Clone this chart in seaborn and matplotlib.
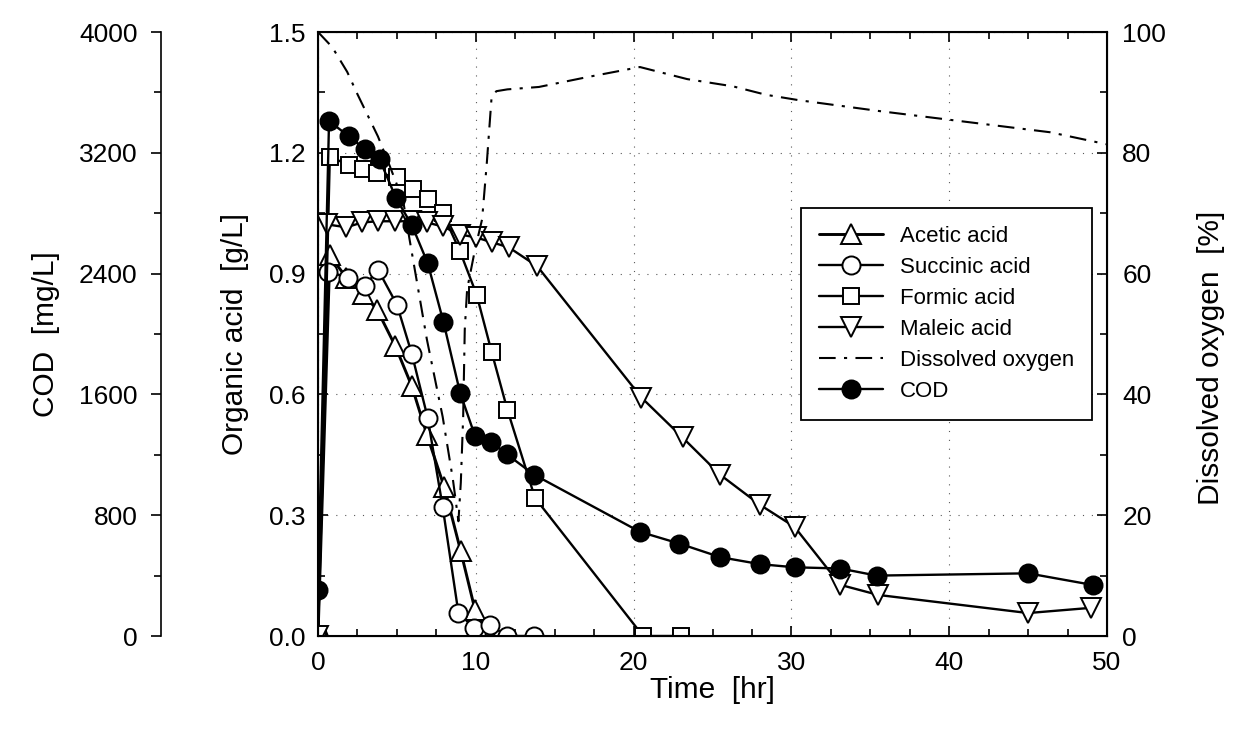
import matplotlib
matplotlib.use('Agg')
import matplotlib.pyplot as plt
from matplotlib.ticker import MultipleLocator
import seaborn as sns

# ========================================== DATA ==========================================

acetic_t = [0, 0.75, 1.8, 2.85, 3.75, 4.9, 5.95, 6.9, 8.0, 9.05, 9.95, 10.9]
acetic = [0.0, 0.945, 0.89, 0.85, 0.81, 0.72, 0.62, 0.50, 0.37, 0.21, 0.065, 0.0]

succinic_t = [0, 0.65, 1.9, 2.95, 3.8, 5.0, 5.95, 6.95, 7.9, 8.9, 9.9, 10.9, 12.0, 13.7]
succinic = [0.0, 0.905, 0.89, 0.868, 0.91, 0.823, 0.70, 0.542, 0.321, 0.057, 0.02, 0.027, 0.0, 0.0]

formic_t = [0, 0.75, 1.95, 2.85, 3.75, 5.0, 6.0, 6.95, 7.9, 9.0, 10.05, 11.0, 12.0, 13.75, 20.6, 23.0]
formic = [0.0, 1.19, 1.17, 1.16, 1.15, 1.14, 1.11, 1.085, 1.05, 0.955, 0.848, 0.706, 0.562, 0.343, 0.0, 0.0]

maleic_t = [0, 0.6, 1.8, 2.8, 3.8, 4.9, 5.9, 6.9, 7.9, 9.0, 10.0, 11.0, 12.1, 13.9,
            20.5, 23.1, 25.5, 28.0, 30.2, 33.1, 35.5, 45.0, 49.0]
maleic = [0.0, 1.022, 1.015, 1.027, 1.03, 1.03, 1.03, 1.027, 1.017, 0.997, 0.99, 0.978, 0.965, 0.918,
          0.592, 0.493, 0.40, 0.326, 0.271, 0.127, 0.102, 0.057, 0.07]

do_t = [0, 0.9, 1.85, 2.5, 3.8, 4.55, 5.4, 5.8, 6.9, 7.9, 8.55, 8.9, 9.05, 9.2, 9.3, 9.45,
        9.95, 10.4, 10.7, 11.0, 11.3, 12.0, 14.0, 17.0, 20.4, 23.4, 26.3, 28.4, 30.5, 35.6, 46.4, 50.0]
do = [100, 97.5, 93.4, 89.7, 82.7, 77.8, 72.0, 65.7, 49.1, 36.3, 25.9, 19.0, 25.4, 36.3, 50.7, 57.4,
      64.0, 69.0, 78.4, 89.2, 90.2, 90.5, 90.9, 92.5, 94.2, 92.2, 91.0, 89.6, 88.7, 86.9, 83.4, 81.4]

cod_t = [0, 0.7, 1.95, 2.95, 3.9, 4.95, 5.95, 6.95, 7.95, 9.0, 9.95, 10.95, 11.97, 13.7,
         20.4, 22.9, 25.5, 28.0, 30.2, 33.1, 35.4, 45.0, 49.1]
cod = [305, 3410, 3310, 3225, 3157, 2899, 2720, 2470, 2080, 1612, 1325, 1287, 1203, 1068,
       690, 612, 522, 476, 455, 447, 400, 415, 338]

# ========================================== PLOT ==========================================

sns.set_style('ticks')
plt.rcParams['font.family'] = ['Liberation Sans', 'DejaVu Sans']
plt.rcParams['font.size'] = 16
for key in ('text.color', 'axes.labelcolor', 'xtick.color', 'ytick.color', 'axes.edgecolor'):
    plt.rcParams[key] = 'black'

TICK_SIZE = 19
LABEL_SIZE = 21.5

fig = plt.figure(figsize=(12.46, 7.47), dpi=100)
ax = fig.add_axes([318 / 1246, 111 / 747, 789 / 1246, 604 / 747])
ax2 = ax.twinx()
ax3 = ax.twinx()

common = dict(color='black', markeredgecolor='black', markeredgewidth=1.4, sort=False, estimator=None)

sns.lineplot(x=acetic_t, y=acetic, ax=ax, marker='^', markersize=14, markerfacecolor='white',
             linewidth=2.1, label='Acetic acid', **common)
sns.lineplot(x=succinic_t, y=succinic, ax=ax, marker='o', markersize=13, markerfacecolor='white',
             linewidth=1.7, label='Succinic acid', **common)
sns.lineplot(x=formic_t, y=formic, ax=ax, marker='s', markersize=12, markerfacecolor='white',
             linewidth=1.7, label='Formic acid', **common)
sns.lineplot(x=maleic_t, y=maleic, ax=ax, marker='v', markersize=14, markerfacecolor='white',
             linewidth=1.7, label='Maleic acid', **common)
sns.lineplot(x=do_t, y=do, ax=ax2, color='black', linewidth=1.5, linestyle=(0, (8, 4, 1.5, 4)),
             label='Dissolved oxygen', sort=False, estimator=None)
sns.lineplot(x=cod_t, y=cod, ax=ax3, marker='o', markersize=13, markerfacecolor='black',
             linewidth=1.7, label='COD', **common)

# organic acid axis
ax.set_xlim(0, 50)
ax.set_ylim(0, 1.5)
ax.xaxis.set_major_locator(MultipleLocator(10))
ax.xaxis.set_minor_locator(MultipleLocator(2.5))
ax.yaxis.set_major_locator(MultipleLocator(0.3))
ax.yaxis.set_minor_locator(MultipleLocator(0.15))
ax.yaxis.set_major_formatter(plt.FormatStrFormatter('%.1f'))
ax.tick_params(which='both', direction='in', top=True, right=False, width=1.2)
ax.tick_params(which='major', length=7)
ax.tick_params(which='minor', length=5)
ax.tick_params(axis='x', pad=11, labelsize=TICK_SIZE)
ax.tick_params(axis='y', pad=9, labelsize=TICK_SIZE)
ax.grid(True, which='major', color='0.35', linestyle=(0, (1, 7)), linewidth=0.8)
ax.set_xlabel('Time  [hr]', fontsize=LABEL_SIZE)
ax.set_ylabel('Organic acid  [g/L]', fontsize=LABEL_SIZE)
ax.xaxis.set_label_coords(0.5, -0.066)
ax.yaxis.set_label_coords(-0.087, 0.5)
for s in ax.spines.values():
    s.set_linewidth(1.5)

# dissolved oxygen axis
ax2.set_ylim(0, 100)
ax2.yaxis.set_major_locator(MultipleLocator(20))
ax2.yaxis.set_minor_locator(MultipleLocator(10))
ax2.tick_params(which='both', direction='in', width=1.2, pad=11, labelsize=TICK_SIZE)
ax2.tick_params(which='major', length=7)
ax2.tick_params(which='minor', length=5)
ax2.set_ylabel('Dissolved oxygen  [%]', fontsize=LABEL_SIZE)
ax2.yaxis.set_label_coords(1.114, 0.46)

# COD axis
ax3.set_ylim(0, 4000)
ax3.yaxis.set_major_locator(MultipleLocator(800))
ax3.yaxis.set_minor_locator(MultipleLocator(400))
ax3.yaxis.set_ticks_position('left')
ax3.yaxis.set_label_position('left')
ax3.spines['left'].set_position(('axes', -0.199))
ax3.spines['left'].set_visible(True)
ax3.spines['left'].set_linewidth(1.2)
for side in ('right', 'top', 'bottom'):
    ax3.spines[side].set_visible(False)
ax3.tick_params(which='both', direction='out', width=1.2, pad=10, labelsize=TICK_SIZE)
ax3.tick_params(which='major', length=7)
ax3.tick_params(which='minor', length=5)
ax3.set_ylabel('COD  [mg/L]', fontsize=LABEL_SIZE)
ax3.yaxis.set_label_coords(-0.327, 0.5)

handles = []
labels = []
for a in (ax, ax2, ax3):
    h, l = a.get_legend_handles_labels()
    handles += h
    labels += l
    if a.get_legend() is not None:
        a.get_legend().remove()

leg = ax3.legend(handles, labels, loc='upper right', bbox_to_anchor=(0.981, 0.708),
                 frameon=True, fancybox=False, edgecolor='black', framealpha=1,
                 fontsize=16, handlelength=2.9, handletextpad=0.75, labelspacing=0.45,
                 borderpad=0.8, borderaxespad=0)
leg.get_frame().set_linewidth(1.3)

plt.savefig('out.png', dpi=100)
